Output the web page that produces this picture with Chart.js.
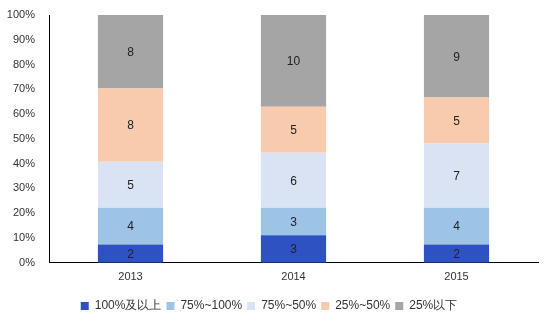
<!DOCTYPE html>
<html><head><meta charset="utf-8">
<script src="https://cdn.jsdelivr.net/npm/chart.js@4/dist/chart.umd.min.js"></script>
<style>html,body{margin:0;padding:0;background:#fff}#w{width:553px;height:328px}</style>
</head><body><div id="w"><canvas id="c" width="553" height="328"></canvas></div>
<script>
const categories = ['2013','2014','2015'];
const seriesNames = ['100%及以上','75%~100%','75%~50%','25%~50%','25%以下'];
const s1 = [2,3,2];
const s2 = [4,3,4];
const s3 = [5,6,7];
const s4 = [8,5,5];
const s5 = [8,10,9];
const yTicks = ['0%','10%','20%','30%','40%','50%','60%','70%','80%','90%','100%'];
const colors = ['#2F52C2','#9DC3E6','#DAE3F3','#F8CBAD','#A5A5A5'];

const series = [s1,s2,s3,s4,s5];
const totals = categories.map((_,i)=>series.reduce((a,s)=>a+s[i],0));
const datasets = series.map((s,k)=>({
  label: seriesNames[k],
  data: s.map((v,i)=>v/totals[i]*100),
  raw: s,
  backgroundColor: colors[k],
  borderWidth: 0,
  barPercentage: 0.4,
  categoryPercentage: 1.0
}));

const labelPlugin = {
  id:'lbl',
  afterDatasetsDraw(chart){
    const ctx = chart.ctx;
    ctx.save();
    ctx.font = '12px "Liberation Sans", Arial, sans-serif';
    ctx.fillStyle = '#222';
    ctx.textAlign='center'; ctx.textBaseline='middle';
    chart.data.datasets.forEach((ds,k)=>{
      chart.getDatasetMeta(k).data.forEach((bar,i)=>{
        const y = (bar.y + bar.base)/2;
        ctx.fillText(String(ds.raw[i]), bar.x, y+1);
      });
    });
    ctx.restore();
  }
};

new Chart(document.getElementById('c'),{
  type:'bar',
  data:{labels:categories,datasets},
  options:{
    responsive:false,animation:false,
    layout:{padding:{left:0,right:15,top:15,bottom:6}},
    plugins:{
      legend:{position:'bottom',labels:{boxWidth:8,boxHeight:8,padding:5,color:'#333',font:{size:12,family:'"Liberation Sans", Arial, sans-serif'}}},
      tooltip:{enabled:false}
    },
    scales:{
      x:{stacked:true,grid:{display:false},border:{display:true,color:'#000'},
        afterFit(sc){sc.height+=11;},
        ticks:{color:'#333',font:{size:11,family:'"Liberation Sans", Arial, sans-serif'},padding:0}},
      y:{stacked:true,min:0,max:100,grid:{display:false},border:{display:true,color:'#000'},
        afterFit(sc){sc.width=49;},
        ticks:{stepSize:10,color:'#333',padding:6,font:{size:11,family:'"Liberation Sans", Arial, sans-serif'},
          callback:(v)=>yTicks[Math.round(v/10)]}}
    }
  },
  plugins:[labelPlugin]
});
</script></body></html>
